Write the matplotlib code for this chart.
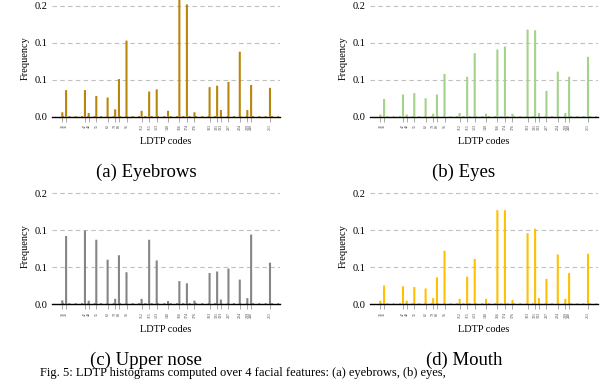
import numpy as np
import matplotlib.pyplot as plt

plt.rcParams['font.family'] = ['Liberation Serif', 'DejaVu Serif']

# histogram bin index of every labelled LDTP code (56 bins in total)
bins = [0, 1, 6, 7, 9, 12, 14, 15, 17, 21, 23, 25, 28, 31, 33, 35, 39, 41, 42, 44, 47, 49, 50, 55]
codes = ['31', '35', '47', '48', '55', '62', '79', '88', '96', '112', '115', '123',
         '140', '166', '174', '176', '183', '191', '193', '207', '224', '239', '240', '251']

eyebrows = [0.006, 0.036, 0.036, 0.005, 0.028, 0.026, 0.010, 0.051, 0.103, 0.008, 0.034, 0.037,
            0.008, 0.170, 0.152, 0.006, 0.040, 0.042, 0.009, 0.047, 0.088, 0.009, 0.043, 0.039]
eyes = [0.003, 0.024, 0.030, 0.003, 0.032, 0.025, 0.004, 0.030, 0.058, 0.005, 0.054, 0.086,
        0.004, 0.091, 0.095, 0.004, 0.118, 0.117, 0.005, 0.035, 0.061, 0.005, 0.054, 0.081]
upper_nose = [0.005, 0.092, 0.0995, 0.0045, 0.087, 0.060, 0.007, 0.066, 0.043, 0.007, 0.087, 0.059,
              0.004, 0.031, 0.028, 0.0045, 0.042, 0.044, 0.006, 0.048, 0.033, 0.008, 0.094, 0.056]
mouth = [0.0045, 0.025, 0.024, 0.0045, 0.023, 0.021, 0.008, 0.036, 0.072, 0.007, 0.037, 0.061,
         0.007, 0.127, 0.127, 0.0055, 0.096, 0.102, 0.008, 0.034, 0.067, 0.007, 0.042, 0.068]

panels = [
    (eyebrows, '#b8860b', '(a) Eyebrows'),
    (eyes, '#a3d28a', '(b) Eyes'),
    (upper_nose, '#858585', '(c) Upper nose'),
    (mouth, '#ffc000', '(d) Mouth'),
]

W, H = 613, 379
fig = plt.figure(figsize=(W / 100, H / 100), dpi=100)

# axes boxes in pixels: left, top, width, height
boxes = [(52, 0, 228, 116.7), (370, 0, 228, 116.7),
         (52, 187.3, 228, 116.7), (370, 187.3, 228, 116.7)]

for (vals, color, caption), (l, t, w, h) in zip(panels, boxes):
    ax = fig.add_axes([l / W, 1 - (t + h) / H, w / W, h / H])
    bars = ax.bar(bins, vals, width=0.55, color=color, lw=0, zorder=3)
    for b in bars:
        b.set_snap(False)
    # tiny bars of the empty bins look like a dotted baseline
    ax.plot([0, 57.5], [0, 0], color=color, lw=1.2, ls=(0, (1.2, 2.6)), zorder=4)

    ax.set_xlim(-2.73, 57.65)
    ax.set_ylim(0, 0.158)
    ax.set_yticks([0.0, 0.05, 0.10, 0.15])
    ax.set_yticklabels(['0.0', '0.1', '0.1', '0.2'])
    ax.set_xticks(bins)
    ax.set_xticklabels(codes, rotation=90, fontsize=2.9, color='#444444')

    ax.grid(axis='y', ls=(0, (4, 3)), color='#c0c0c0', lw=0.8, zorder=0)
    for s in ['top', 'right', 'left']:
        ax.spines[s].set_visible(False)
    ax.spines['bottom'].set_linewidth(1.0)
    ax.spines['bottom'].set_zorder(5)
    ax.tick_params(axis='y', length=0, labelsize=7.5, pad=3)
    ax.tick_params(axis='x', length=3.5, width=0.5, color='#888888', pad=2)

    ax.set_ylabel('Frequency', fontsize=7.5, labelpad=4)
    ax.set_xlabel('LDTP codes', fontsize=7.5, labelpad=5)

    cx = (l + w / 2 - 20) / W
    fig.text(cx, 1 - (t + h + 56) / H, caption, fontsize=13.5, ha='center', va='center')

fig.text(40 / W, 1 - 367 / H,
         'Fig. 5: LDTP histograms computed over 4 facial features: (a) eyebrows, (b) eyes,',
         fontsize=9, ha='left', va='top')

fig.savefig('out.png', dpi=100)
